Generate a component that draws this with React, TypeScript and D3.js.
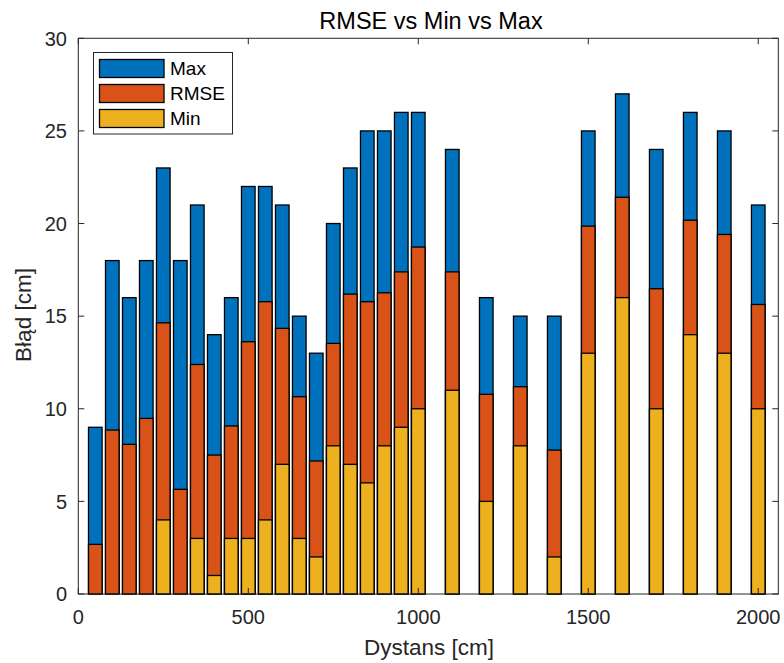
import React from "react";
import * as d3 from "d3";

const distances = [50, 100, 150, 200, 250, 300, 350, 400, 450, 500, 550, 600, 650, 700, 750, 800, 850, 900, 950, 1000, 1100, 1200, 1300, 1400, 1500, 1600, 1700, 1800, 1900, 2000];
const maxVals = [9, 18, 16, 18, 23, 18, 21, 14, 16, 22, 22, 21, 15, 13, 20, 23, 25, 25, 26, 26, 24, 16, 15, 15, 25, 27, 24, 26, 25, 21];
const rmseVals = [2.68, 8.85, 8.08, 9.48, 14.64, 5.65, 12.39, 7.5, 9.07, 13.62, 15.78, 14.34, 10.65, 7.18, 13.53, 16.19, 15.78, 16.26, 17.39, 18.73, 17.39, 10.78, 11.19, 7.77, 19.86, 21.42, 16.48, 20.18, 19.41, 15.63];
const minVals = [0, 0, 0, 0, 4, 0, 3, 1, 3, 3, 4, 7, 3, 2, 8, 7, 6, 8, 9, 10, 11, 5, 8, 2, 13, 16, 10, 14, 13, 10];
const xTicks = [0, 500, 1000, 1500, 2000];
const yTicks = [0, 5, 10, 15, 20, 25, 30];
const seriesNames = ["Max", "RMSE", "Min"];
const seriesColors = ["#0072BD", "#D95319", "#EDB120"];

const W = 784;
const H = 663;
const L = 78.3, R = 778.3, T = 38.3, B = 594;
const FONT = "'Liberation Sans', Arial, Helvetica, sans-serif";
const TXT = "#262626";

export default function App() {
  const x = d3.scaleLinear().domain([0, 2059]).range([L, R]);
  const y = d3.scaleLinear().domain([0, 30]).range([B, T]);
  const barW = x(40) - x(0);
  const series = [maxVals, rmseVals, minVals];
  const tickLen = 6;

  return (
    <svg width={W} height={H} style={{ position: "absolute", left: 0, top: 0, background: "#fff" }}>
      <rect x={0} y={0} width={W} height={H} fill="#fff" />
      {series.map((vals, si) => (
        <g key={si}>
          {vals.map((v, i) => (
            <rect
              key={i}
              x={x(distances[i]) - barW / 2}
              y={y(v)}
              width={barW}
              height={y(0) - y(v)}
              fill={seriesColors[si]}
              stroke="#000"
              strokeWidth={1.3}
            />
          ))}
        </g>
      ))}
      <rect x={L} y={T} width={R - L} height={B - T} fill="none" stroke={TXT} strokeWidth={1} />
      {xTicks.map((t) => (
        <g key={"x" + t}>
          <line x1={x(t)} x2={x(t)} y1={B} y2={B - tickLen} stroke={TXT} strokeWidth={1} />
          <line x1={x(t)} x2={x(t)} y1={T} y2={T + tickLen} stroke={TXT} strokeWidth={1} />
          <text x={x(t)} y={624} textAnchor="middle" fontFamily={FONT} fontSize={20} fill={TXT}>
            {t}
          </text>
        </g>
      ))}
      {yTicks.map((t) => (
        <g key={"y" + t}>
          <line x1={L} x2={L + tickLen} y1={y(t)} y2={y(t)} stroke={TXT} strokeWidth={1} />
          <line x1={R} x2={R - tickLen} y1={y(t)} y2={y(t)} stroke={TXT} strokeWidth={1} />
          <text x={67} y={y(t)} dy="0.36em" textAnchor="end" fontFamily={FONT} fontSize={20} fill={TXT}>
            {t}
          </text>
        </g>
      ))}
      <text x={431} y={28.5} textAnchor="middle" fontFamily={FONT} fontSize={23.5} fill="#000">
        RMSE vs Min vs Max
      </text>
      <text x={429} y={655} textAnchor="middle" fontFamily={FONT} fontSize={22.5} fill={TXT}>
        Dystans [cm]
      </text>
      <text
        transform={`translate(30.5,315) rotate(-90)`}
        textAnchor="middle"
        fontFamily={FONT}
        fontSize={22.5}
        fill={TXT}
      >
        Błąd [cm]
      </text>
      <g>
        <rect x={93.5} y={52.5} width={139} height={81.5} fill="#fff" stroke={TXT} strokeWidth={1} />
        {seriesNames.map((n, i) => (
          <g key={n}>
            <rect x={99.5} y={59.5 + i * 25} width={64.5} height={18} fill={seriesColors[i]} stroke="#000" strokeWidth={1.3} />
            <text x={170} y={68.5 + i * 25} dy="0.36em" fontFamily={FONT} fontSize={19} fill="#000">
              {n}
            </text>
          </g>
        ))}
      </g>
    </svg>
  );
}
